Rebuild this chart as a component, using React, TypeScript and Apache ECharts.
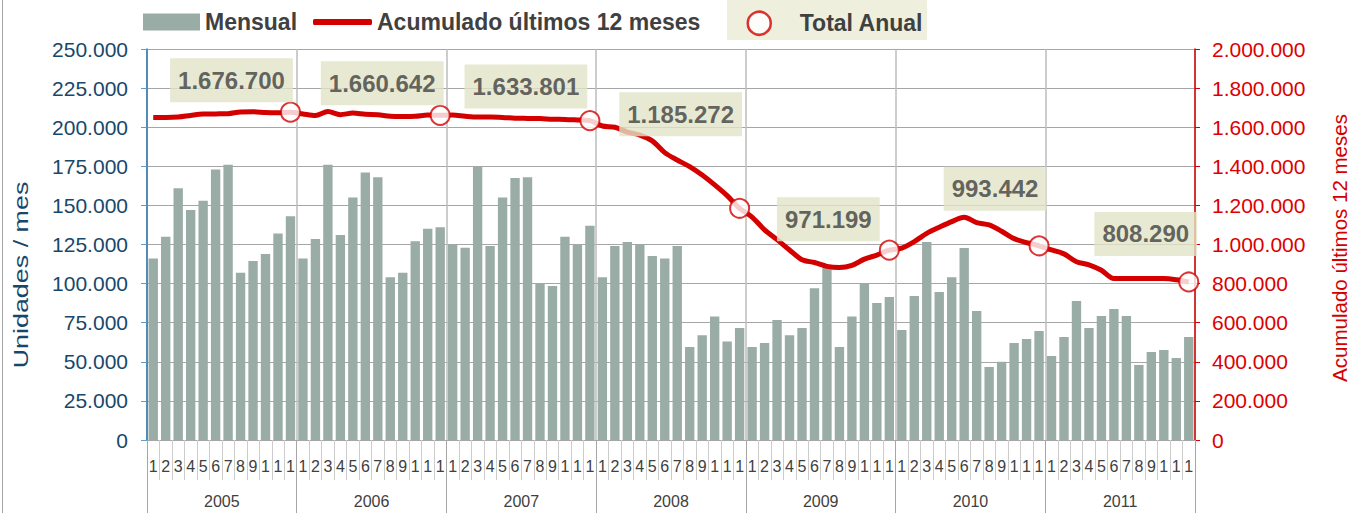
import React, { useEffect, useRef } from "react";
import * as echarts from "echarts";

const years = ["2005", "2006", "2007", "2008", "2009", "2010", "2011"];
const monthLabels = ["1", "2", "3", "4", "5", "6", "7", "8", "9", "10", "11", "12"];

// Mensual (unidades / mes)
const mensual2005 = [116000, 130000, 161000, 147000, 153000, 173000, 176000, 107000, 114500, 119000, 132000, 143000];
const mensual2006 = [116000, 128500, 176000, 131000, 155000, 171000, 168000, 104000, 107000, 127000, 135000, 136000];
const mensual2007 = [125000, 123000, 174500, 124000, 155000, 167500, 168000, 100000, 98500, 130000, 125000, 137000];
const mensual2008 = [104000, 124000, 126600, 125000, 117600, 116000, 124000, 59500, 67000, 79000, 63000, 71600];
const mensual2009 = [59500, 62000, 76700, 67000, 71600, 97000, 110000, 59500, 79000, 100000, 87600, 91400];
const mensual2010 = [70300, 92000, 126600, 94600, 104000, 122800, 82500, 46700, 50000, 62000, 64600, 69700];
const mensual2011 = [53700, 65900, 88900, 71600, 79300, 83800, 79300, 48000, 56300, 57500, 52400, 65900];

// Acumulado últimos 12 meses
const acum2005 = [1650000, 1650000, 1652000, 1660000, 1667000, 1668000, 1669000, 1678000, 1679000, 1675000, 1674000, 1676700];
const acum2006 = [1668000, 1660000, 1680000, 1664000, 1672000, 1666000, 1664000, 1656000, 1655000, 1656000, 1662000, 1660642];
const acum2007 = [1662000, 1656000, 1652000, 1652000, 1650000, 1646000, 1645000, 1644000, 1641000, 1640000, 1637000, 1633801];
const acum2008 = [1606000, 1600000, 1575000, 1560000, 1530000, 1470000, 1432000, 1398000, 1355000, 1305000, 1250000, 1185272];
const acum2009 = [1140000, 1075000, 1025000, 972000, 922000, 908000, 888000, 882000, 893000, 925000, 946000, 971199];
const acum2010 = [982000, 1015000, 1057000, 1088000, 1117000, 1140000, 1112000, 1100000, 1068000, 1030000, 1010000, 993442];
const acum2011 = [972000, 952000, 912000, 896000, 868000, 826000, 826000, 826000, 826000, 826000, 820000, 808290];

// Total Anual
const totalAnual = [1676700, 1660642, 1633801, 1185272, 971199, 993442, 808290];

// label offsets (styling) for the Total Anual boxes
const labelOffsets: [number, number][] = [
  [-59, -32],
  [-58, -32],
  [-64, -34],
  [-59, -94],
  [-61, -31],
  [-44, -57],
  [-43, -48],
];

const FONT = "'Liberation Sans', Arial, sans-serif";
const fmt = (v: number) => String(Math.round(v)).replace(/\B(?=(\d{3})+(?!\d))/g, ".");

export default function App() {
  const ref = useRef<HTMLDivElement>(null);

  useEffect(() => {
    if (!ref.current) return;
    const chart = echarts.init(ref.current, undefined, { renderer: "svg" });

    const monthCats = years.flatMap(() => monthLabels);
    const mensual = [mensual2005, mensual2006, mensual2007, mensual2008, mensual2009, mensual2010, mensual2011].flat();
    const acum = [acum2005, acum2006, acum2007, acum2008, acum2009, acum2010, acum2011].flat();
    const anual: any[] = monthCats.map(() => "-");
    totalAnual.forEach((v, i) => {
      anual[i * 12 + 11] = { value: v, label: { offset: labelOffsets[i] } };
    });

    chart.setOption({
      animation: false,
      textStyle: { fontFamily: FONT },
      grid: { left: 147, right: 158, top: 49, bottom: 73, containLabel: false },
      legend: [
        {
          data: ["Mensual"],
          left: 143,
          top: 10.5,
          padding: 0,
          icon: "rect",
          itemWidth: 57,
          itemHeight: 17,
          textStyle: { fontSize: 23, fontWeight: "bold", color: "#404040", fontFamily: FONT },
        },
        {
          data: ["Acumulado últimos 12 meses"],
          left: 313,
          top: 10.5,
          padding: 0,
          icon: "roundRect",
          itemWidth: 59,
          itemHeight: 6,
          textStyle: { fontSize: 23, fontWeight: "bold", color: "#404040", fontFamily: FONT },
        },
        {
          data: ["Total Anual"],
          left: 746.5,
          top: 10.5,
          padding: 0,
          icon: "circle",
          itemWidth: 23,
          itemHeight: 23,
          itemStyle: { borderWidth: 2.5 },
          textStyle: { fontSize: 23, fontWeight: "bold", color: "#404040", fontFamily: FONT, padding: [0, 0, 0, 24] },
        },
      ],
      graphic: [
        { type: "rect", z: 0, shape: { x: 727, y: 0, width: 200, height: 40 }, style: { fill: "#efefde" } },
        { type: "line", z: 0, shape: { x1: 2.5, y1: 0, x2: 2.5, y2: 513 }, style: { stroke: "#a6a6a6", lineWidth: 1 } },
        {
          type: "text",
          x: 21,
          y: 275,
          rotation: Math.PI / 2,
          scaleX: 1.28,
          style: {
            text: "Unidades / mes",
            fontSize: 21,
            fontFamily: FONT,
            fill: "#17486b",
            align: "center",
            verticalAlign: "middle",
            textAlign: "center",
            textVerticalAlign: "middle",
          },
        },
        {
          type: "text",
          x: 1339,
          y: 248,
          rotation: Math.PI / 2,
          style: {
            text: "Acumulado últimos 12 meses",
            fontSize: 20.5,
            fontFamily: FONT,
            fill: "#d40000",
            align: "center",
            verticalAlign: "middle",
            textAlign: "center",
            textVerticalAlign: "middle",
          },
        },
      ],
      xAxis: [
        {
          type: "category",
          data: monthCats,
          position: "bottom",
          boundaryGap: true,
          axisLine: { show: true, lineStyle: { color: "#a6a6a6" } },
          axisTick: { show: true, interval: 0, length: 40, lineStyle: { color: "#cccccc" } },
          axisLabel: {
            interval: 0,
            margin: 18,
            fontSize: 16,
            color: "#404040",
            width: 12,
            overflow: "truncate",
            ellipsis: "",
          },
          splitLine: { show: false },
        },
        {
          type: "category",
          data: years,
          position: "bottom",
          boundaryGap: true,
          axisLine: { show: false },
          axisTick: { show: true, interval: 0, length: 73, lineStyle: { color: "#a6a6a6" } },
          axisLabel: { interval: 0, margin: 53, fontSize: 16, color: "#404040" },
          splitLine: { show: true, interval: 0, lineStyle: { color: "#bdbdbd", width: 1.5 } },
        },
      ],
      yAxis: [
        {
          type: "value",
          position: "left",
          min: 0,
          max: 250000,
          interval: 25000,
          axisLine: { show: true, lineStyle: { color: "#2a73ae", width: 1.5 } },
          axisTick: { show: true, length: 6, lineStyle: { color: "#5a9bd0" } },
          axisLabel: { fontSize: 21, color: "#17486b", margin: 19, formatter: (v: number) => fmt(v) },
          splitLine: { show: true, lineStyle: { color: "#a6a6a6", width: 1 } },
        },
        {
          type: "value",
          position: "right",
          min: 0,
          max: 2000000,
          interval: 200000,
          axisLine: { show: true, lineStyle: { color: "#d40000", width: 1.5 } },
          axisTick: { show: true, length: 5, lineStyle: { color: "#d40000" } },
          axisLabel: { fontSize: 21, color: "#dd0000", margin: 17, formatter: (v: number) => fmt(v) },
          splitLine: { show: false },
        },
      ],
      series: [
        {
          name: "Mensual",
          type: "bar",
          xAxisIndex: 0,
          yAxisIndex: 0,
          data: mensual,
          barCategoryGap: "25%",
          itemStyle: { color: "#99aca6" },
        },
        {
          name: "Acumulado últimos 12 meses",
          type: "line",
          xAxisIndex: 0,
          yAxisIndex: 1,
          data: acum,
          smooth: 0.3,
          symbol: "none",
          showSymbol: false,
          color: "#d40000",
          itemStyle: { color: "#d40000" },
          lineStyle: { color: "#d40000", width: 5 },
          z: 3,
        },
        {
          name: "Total Anual",
          type: "scatter",
          xAxisIndex: 0,
          yAxisIndex: 1,
          data: anual,
          symbol: "circle",
          symbolSize: 19,
          itemStyle: { color: "#ffffff", borderColor: "#d40000", borderWidth: 2 },
          label: {
            show: true,
            position: "inside",
            formatter: (p: any) => fmt(typeof p.value === "number" ? p.value : p.data.value),
            backgroundColor: "#e2e3c7",
            padding: [10, 8],
            fontSize: 24,
            lineHeight: 24,
            fontWeight: "bold",
            color: "#404040",
            fontFamily: FONT,
          },
          z: 5,
        },
      ],
    });

    return () => chart.dispose();
  }, []);

  return (
    <div
      ref={ref}
      style={{ position: "fixed", left: 0, top: 0, width: 1353, height: 513, background: "#ffffff" }}
    />
  );
}
